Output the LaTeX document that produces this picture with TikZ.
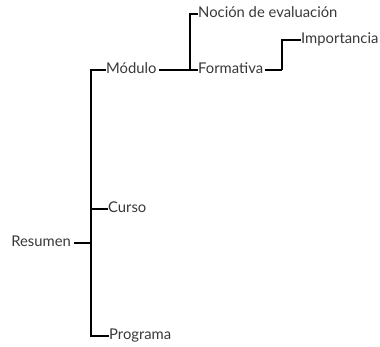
\documentclass[tikz,border=0pt]{standalone}
\usepackage{fontspec}
\setmainfont{Lato}
\usepackage{xcolor}
\usepackage{tikz}
\usetikzlibrary{positioning}

\begin{document}
\begin{tikzpicture}[
    x=1pt, y=1pt,
    leaf/.style={anchor=west, inner sep=0pt, text height=1.45ex, text depth=0pt, font=\fontsize{14.8}{17}\selectfont, text=black!78},
    link/.style={line width=1.2pt, black}
]
    \useasboundingbox (0,0) rectangle (380,-347);

    \node (resumen) [leaf, anchor=east] at (71,-243) {Resumen};
    \node (modulo) [leaf] at (106,-70) {Módulo};
    \node (curso) [leaf] at (108,-209) {Curso};
    \node (programa) [leaf] at (109,-336) {Programa};
    \node (nocion) [leaf] at (198,-14) {Noción de evaluación};
    \node (formativa) [leaf] at (198,-70) {Formativa};
    \node (importancia) [leaf] at (301,-40) {Importancia};

    \coordinate (bus) at (91,-243);
    \coordinate (busmod) at (190,-70);
    \coordinate (busform) at (282,-70);

    \draw [link] (resumen.east) ++(3,0) -- (bus);
    \draw [link] (bus) |- (modulo.west);
    \draw [link] (bus) |- (curso.west);
    \draw [link] (bus) |- (programa.west);
    \draw [link] (modulo.east) ++(2,0) -- (busmod);
    \draw [link] (busmod) |- (nocion.west);
    \draw [link] (busmod) -- (formativa.west);
    \draw [link] (formativa.east) ++(2,0) -- (busform);
    \draw [link] (busform) |- (importancia.west);
\end{tikzpicture}
\end{document}
